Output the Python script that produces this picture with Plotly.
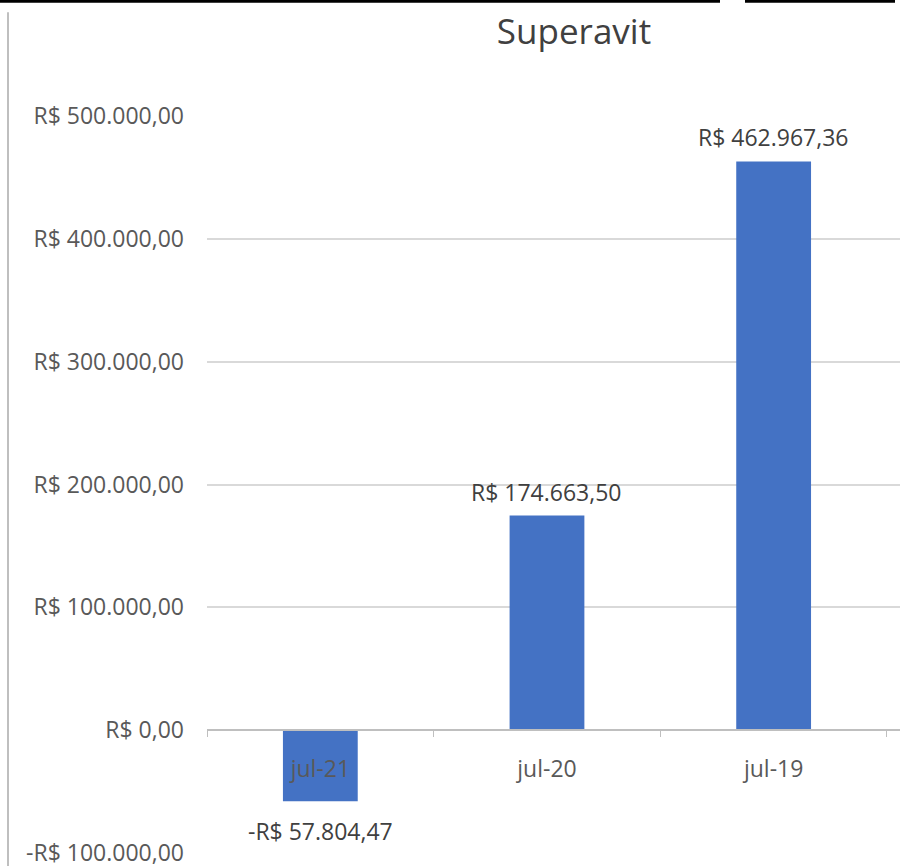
import plotly.graph_objects as go

categories = ["jul-21", "jul-20", "jul-19"]
values = [-57804.47, 174663.50, 462967.36]
value_labels = ["-R$ 57.804,47", "R$ 174.663,50", "R$ 462.967,36"]
tick_vals = [-100000, 0, 100000, 200000, 300000, 400000, 500000]
tick_text = ["-R$ 100.000,00", "R$ 0,00", "R$ 100.000,00", "R$ 200.000,00",
             "R$ 300.000,00", "R$ 400.000,00", "R$ 500.000,00"]

y_min, y_max = -100000, 500000
zero_pos = (0 - y_min) / (y_max - y_min)

FONT = "Open Sans"
TXT = "#595959"

fig = go.Figure(go.Bar(
    x=categories, y=values,
    marker=dict(color="#4472C4", line=dict(width=0)),
    width=0.33,
    cliponaxis=False,
))

annotations = []
for c, v, t in zip(categories, values, value_labels):
    annotations.append(dict(
        x=c, y=v, xref="x", yref="y", text=t, showarrow=False,
        yanchor="bottom" if v >= 0 else "top",
        yshift=6 if v >= 0 else -12,
        font=dict(family=FONT, size=23, color="#404040"),
    ))

PW = 693.0
PH = 739.0

fig.update_layout(
    width=900, height=868,
    margin=dict(l=207, r=0, t=116, b=13),
    paper_bgcolor="white", plot_bgcolor="white",
    showlegend=False,
    title=dict(text="Superavit", x=574/900, xref="container", xanchor="center",
               y=1 - 32/868, yref="container", yanchor="middle",
               font=dict(family=FONT, size=35, color="#404040")),
    xaxis=dict(
        type="category", range=[-0.5, 2.5575],
        anchor="free", position=zero_pos,
        showline=True, linecolor="#BFBFBF", linewidth=1.5,
        ticks="outside", tickson="boundaries", ticklen=6, tickcolor="#BFBFBF",
        ticklabelstandoff=18,
        tickfont=dict(family=FONT, size=23, color=TXT),
        showgrid=False, zeroline=False,
    ),
    yaxis=dict(
        range=[y_min, y_max],
        tickmode="array", tickvals=tick_vals, ticktext=tick_text,
        tickfont=dict(family=FONT, size=23, color=TXT),
        ticks="", ticklabelstandoff=22, ticklabeloverflow="allow",
        showgrid=True, gridcolor="#D9D9D9", gridwidth=1.5,
        zeroline=False, showline=False,
    ),
    annotations=annotations,
    shapes=[
        dict(type="line", xref="paper", yref="paper", x0=-207/PW, x1=513/PW,
             y0=1 + 115/PH, y1=1 + 115/PH, line=dict(color="black", width=3)),
        dict(type="line", xref="paper", yref="paper", x0=538/PW, x1=688/PW,
             y0=1 + 115/PH, y1=1 + 115/PH, line=dict(color="black", width=3)),
        dict(type="line", xref="paper", yref="paper", x0=-199/PW, x1=-199/PW,
             y0=-13/PH, y1=1 + 104/PH, line=dict(color="#BFBFBF", width=2)),
    ],
)

fig.write_html("out.html", config={"displayModeBar": False},
               post_script="document.body.style.margin='0px';document.body.style.overflow='hidden';")
